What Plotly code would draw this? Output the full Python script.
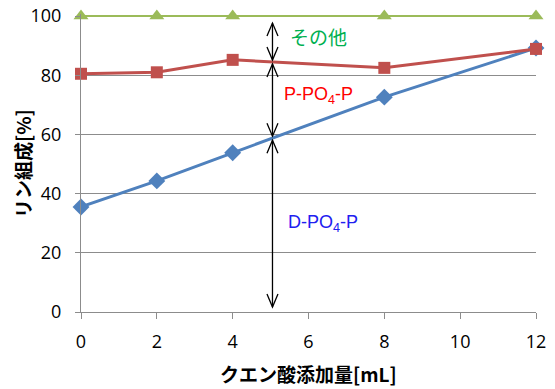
import numpy as np
import plotly.graph_objects as go

# Citric acid dose [mL]
citric_ml = [0, 2, 4, 8, 12]
# Cumulative phosphorus composition [%]
d_po4 = [35.5, 44.3, 53.8, 72.6, 89.2]     # D-PO4-P (blue)
p_po4 = [80.5, 81.0, 85.2, 82.5, 88.9]     # D + P-PO4-P (red)
total = [100, 100, 100, 100, 100]          # everything incl. other (green)

x_ticks = [0, 2, 4, 6, 8, 10, 12]
y_ticks = [0, 20, 40, 60, 80, 100]

# position of the bracket arrows
arrow_x = 5.05

BLUE = "#4F81BD"
RED = "#C0504D"
GREEN = "#9BBB59"
GRID = "#8C8C8C"

W, H = 555, 389
y_top = 100.7  # a little headroom so the 100 % line is not clipped
M = dict(l=81, r=19, t=14, b=77)
plot_w = W - M["l"] - M["r"]
plot_h = H - M["t"] - M["b"]
px_per_x = plot_w / (x_ticks[-1] - x_ticks[0])
px_per_y = plot_h / (y_top - y_ticks[0])

fig = go.Figure()

fig.add_trace(go.Scatter(
    x=citric_ml, y=d_po4, mode="lines+markers",
    line=dict(color=BLUE, width=3),
    marker=dict(symbol="diamond", size=13, color=BLUE),
    cliponaxis=False, showlegend=False))
fig.add_trace(go.Scatter(
    x=citric_ml, y=p_po4, mode="lines+markers",
    line=dict(color=RED, width=3),
    marker=dict(symbol="square", size=12, color=RED),
    cliponaxis=False, showlegend=False))
fig.add_trace(go.Scatter(
    x=citric_ml, y=total, mode="lines+markers",
    line=dict(color=GREEN, width=2),
    marker=dict(symbol="triangle-up", size=13, color=GREEN),
    cliponaxis=False, showlegend=False))

# Double-headed bracket arrows between the curves at arrow_x
b_at = float(np.interp(arrow_x, citric_ml, d_po4))
r_at = float(np.interp(arrow_x, citric_ml, p_po4))
g_at = float(np.interp(arrow_x, citric_ml, total))
gap = 1.0 / px_per_y  # one pixel in data units
segments = [(g_at - 7 * gap, r_at + 2 * gap),
            (r_at - 2 * gap, b_at + 2 * gap),
            (b_at - 2 * gap, y_ticks[0] + 5 * gap)]
head_dx = 5.5 / px_per_x
head_dy = 13 / px_per_y


def vpath(x, y, direction):
    # open V arrowhead pointing up (direction=+1) or down (-1) with tip at (x, y)
    return (f"M {x - head_dx},{y - direction * head_dy} L {x},{y} "
            f"L {x + head_dx},{y - direction * head_dy}")


for top, bot in segments:
    fig.add_shape(type="line", x0=arrow_x, x1=arrow_x, y0=bot, y1=top,
                  line=dict(color="black", width=1.3))
    fig.add_shape(type="path", path=vpath(arrow_x, top, 1),
                  line=dict(color="black", width=1.3))
    fig.add_shape(type="path", path=vpath(arrow_x, bot, -1),
                  line=dict(color="black", width=1.3))

label_font = "Liberation Sans, Arial, sans-serif"
fig.add_annotation(x=5.45, y=(g_at + r_at) / 2 + 0.8, text="その他", showarrow=False,
                   xanchor="left", yanchor="middle",
                   font=dict(family="Noto Sans CJK JP", size=19, color="#00B050"))
fig.add_annotation(x=5.3, y=(r_at + b_at) / 2 + 1.5, text="P-PO<sub>4</sub>-P", showarrow=False,
                   xanchor="left", yanchor="middle",
                   font=dict(family=label_font, size=18, color="#FF0000"))
fig.add_annotation(x=5.4, y=30.0, text="D-PO<sub>4</sub>-P", showarrow=False,
                   xanchor="left", yanchor="middle",
                   font=dict(family=label_font, size=18, color="#2020F0"))

tick_font = dict(family="Open Sans, Noto Sans, sans-serif", size=18, color="black")
title_font = dict(family="Noto Sans CJK JP", size=19, color="black")

# axis titles placed in paper coordinates
fig.add_annotation(xref="paper", yref="paper", x=0.5, y=-(373 - M["t"] - plot_h) / plot_h,
                   text="<b>クエン酸添加量[mL]</b>", showarrow=False,
                   xanchor="center", yanchor="middle", font=title_font)
fig.add_annotation(xref="paper", yref="paper", x=(22 - M["l"]) / plot_w, y=0.5,
                   text="<b>リン組成[%]</b>", showarrow=False, textangle=-90,
                   xanchor="center", yanchor="middle", font=title_font)

fig.update_xaxes(
    range=[x_ticks[0], x_ticks[-1]], tickvals=x_ticks, ticktext=[str(v) for v in x_ticks],
    showgrid=False, zeroline=False, showline=True, linecolor=GRID, linewidth=1,
    ticks="outside", ticklen=6, tickcolor=GRID, tickfont=tick_font,
    ticklabelstandoff=7, automargin=False)
fig.update_yaxes(
    range=[y_ticks[0], y_top], tickvals=y_ticks, ticktext=[str(v) for v in y_ticks],
    showgrid=True, gridcolor=GRID, gridwidth=1, zeroline=False,
    showline=True, linecolor=GRID, linewidth=1,
    ticks="outside", ticklen=5, tickcolor=GRID, tickfont=tick_font,
    ticklabelstandoff=10, automargin=False)

fig.update_layout(
    width=W, height=H, margin=M,
    paper_bgcolor="white", plot_bgcolor="white", showlegend=False)

fig.write_html("out.html")
